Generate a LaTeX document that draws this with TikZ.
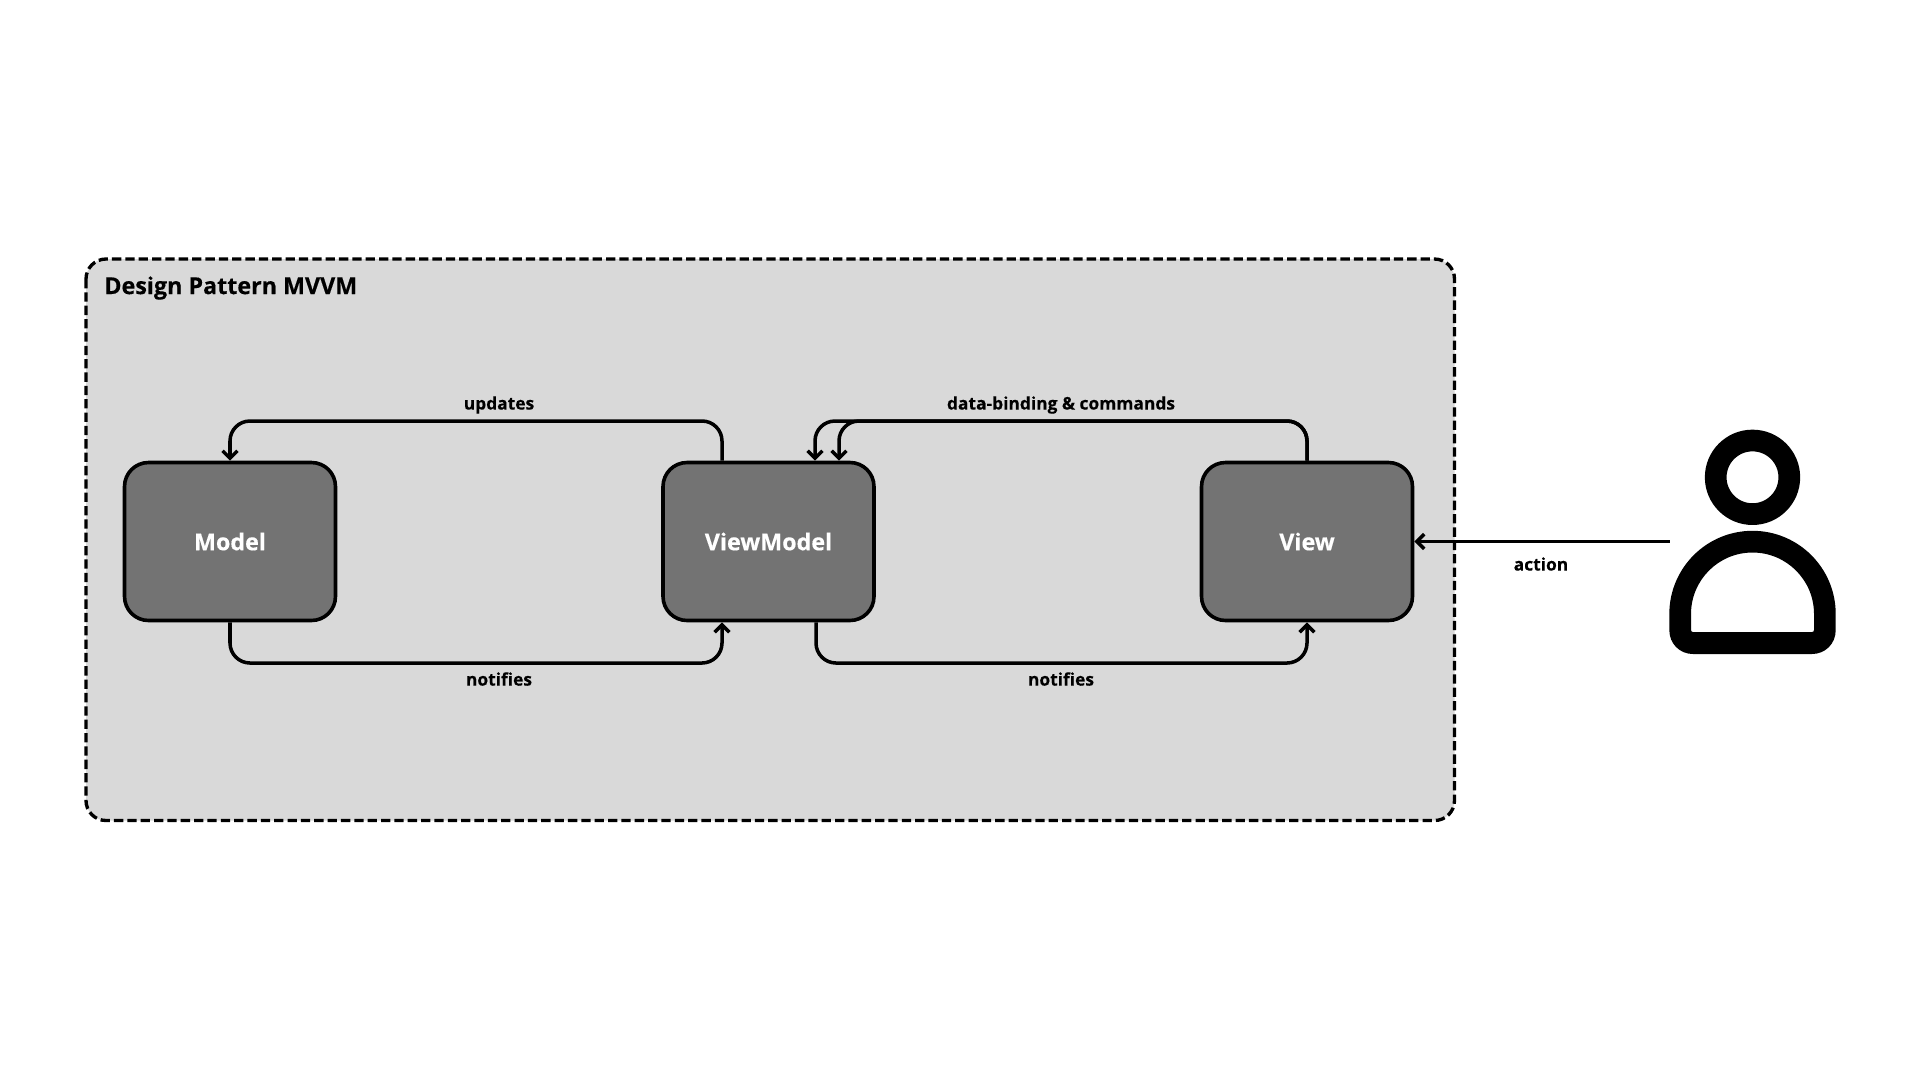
\documentclass[tikz,border=0pt]{standalone}
\usepackage{fontspec}
\setmainfont[BoldFeatures={FakeBold=0.35}]{Open Sans}
\usetikzlibrary{arrows.meta,calc}
\definecolor{panelgray}{HTML}{D9D9D9}
\definecolor{boxgray}{HTML}{737373}
\tikzset{
  x=0.02cm,y=-0.02cm,
  panel/.style={draw=black,fill=panelgray,line width=1.9pt,rounded corners=0.4cm,dash pattern=on 5.3pt off 2.3pt},
  comp/.style={draw=black,fill=boxgray,line width=2.05pt,rounded corners=0.48cm,minimum width=4.22cm,minimum height=3.16cm,inner sep=0pt,text=white,font=\fontsize{13.25pt}{16pt}\selectfont\bfseries},
  conn/.style={draw=black,line width=2pt,rounded corners=0.4cm,-{Straight Barb[length=4.2pt,width=8.4pt,line width=2pt]}},
  lbl/.style={inner sep=0pt,font=\fontsize{9.9pt}{12pt}\selectfont\bfseries},
  ttl/.style={inner sep=0pt,anchor=west,font=\fontsize{13.25pt}{16pt}\selectfont\bfseries}
}
\begin{document}
\begin{tikzpicture}
\useasboundingbox (0,0) rectangle (1920,1080);
\fill[white] (0,0) rectangle (1920,1080);
\path[panel] (86,259) rectangle (1454.5,820.5);
\node[ttl] (title) at (104,288) {Design Pattern MVVM};
\node[comp] (model) at (230,541.5) {\raisebox{-0.6pt}{Model}};
\node[comp] (vm) at (768.5,541.5) {\raisebox{-0.6pt}{ViewModel}};
\node[comp] (view) at (1307,541.5) {\raisebox{-0.6pt}{View}};
% connectors
\draw[conn] ($(vm.north)+(-46.5,0)$) |- (499,421) -| (model.north);
\draw[conn] (model.south) |- (499,663) -| ($(vm.south)+(-46.5,0)$);
\draw[conn] (view.north) |- (1061,421) -| ($(vm.north)+(46.5,0)$);
\draw[conn] (view.north) |- (1061,421) -| ($(vm.north)+(70.5,0)$);
\draw[conn] ($(vm.south)+(47.5,0)$) |- (1061,663) -| (view.south);
\coordinate (user) at (1669.5,541.5);
\draw[conn] (user) -- (view.east);
\node[lbl] (l1) at (499,405) {updates};
\node[lbl] (l2) at (499,679) {notifies};
\node[lbl] (l3) at (1061,405) {data-binding \& commands};
\node[lbl] (l4) at (1061,679) {notifies};
\node[lbl] (l5) at (1541,564) {action};
% person icon
\draw[line width=12.35pt] (1752.5,477.3) circle[radius=36.8];
\fill[even odd rule,black]
  (1669.3,614) arc[start angle=180,end angle=360,radius=83.2]
  -- (1835.7,630) .. controls (1835.7,644) and (1825,654) .. (1812,654)
  -- (1693,654) .. controls (1680,654) and (1669.3,644) .. (1669.3,630) -- cycle
  (1691,614) arc[start angle=180,end angle=360,radius=61.5]
  -- (1814,630) .. controls (1814,631.5) and (1813,632) .. (1812,632)
  -- (1693,632) .. controls (1692,632) and (1691,631.5) .. (1691,630) -- cycle;
\end{tikzpicture}
\end{document}
